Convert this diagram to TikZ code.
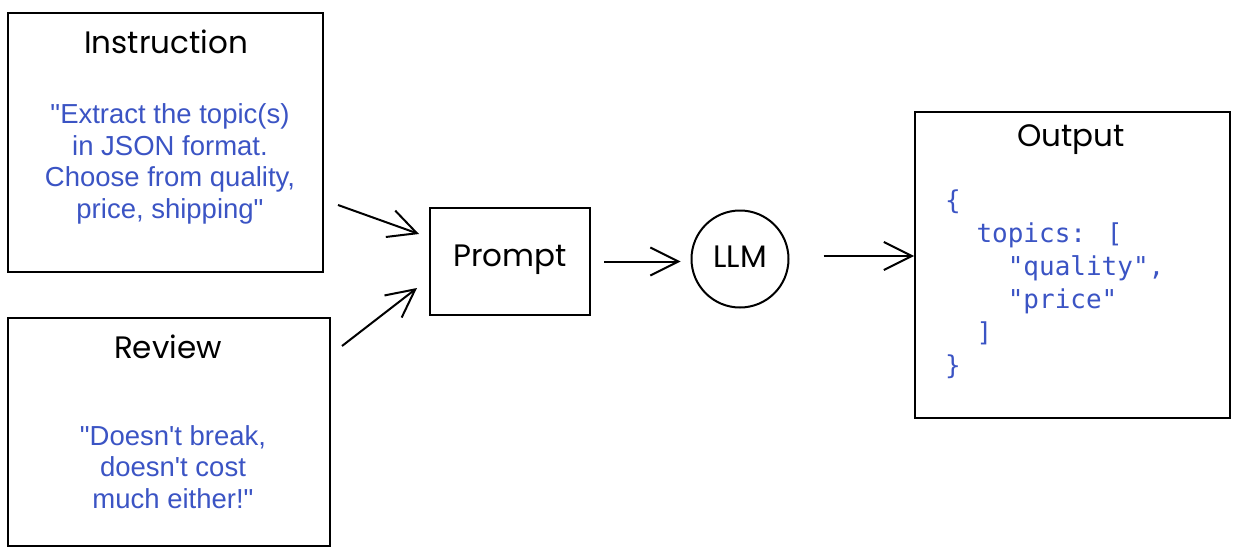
\documentclass[tikz,border=0pt]{standalone}
\usepackage{fontspec}
\usetikzlibrary{arrows.meta,calc}
\newfontfamily\handfont{Poppins}
\newfontfamily\bodyfont{Liberation Sans}
\newfontfamily\codefont{DejaVu Sans Mono}
\definecolor{txtblue}{RGB}{59,84,196}
\tikzset{
  sketchbox/.style={draw=black, line width=2pt, rectangle, inner sep=0pt},
  title/.style={font=\handfont\fontsize{31}{35}\selectfont, text=black},
  bluetext/.style={font=\bodyfont\fontsize{27.5}{31.7}\selectfont, text=txtblue, align=center},
  codetext/.style={font=\codefont\fontsize{26}{33}\selectfont, text=txtblue, align=left, inner sep=0pt},
  arr/.style={line width=2pt, -{Straight Barb[length=28pt,width=28pt,line width=2pt]}}
}
\begin{document}
\begin{tikzpicture}[x=1pt,y=-1pt]
\useasboundingbox (0,0) rectangle (1240,554);
% boxes
\node[sketchbox, minimum width=315pt, minimum height=259pt] (inst) at (165.5,142.5) {};
\node[sketchbox, minimum width=322pt, minimum height=228pt] (rev) at (169,432) {};
\node[sketchbox, minimum width=160pt, minimum height=107pt] (prompt) at (510,261.5) {};
\node[draw=black, line width=2pt, circle, minimum size=97pt, inner sep=0pt] (llm) at (740,259) {};
\node[sketchbox, minimum width=315pt, minimum height=306pt] (out) at (1072.5,265) {};
% titles
\node[title] (instt) at (166,42) {Instruction};
\node[title] (revt) at (168,347) {Review};
\node[title] (promptt) at (510,260) {Prompt};
\node[title] (llmt) at (740,257) {LLM};
\node[title] (outt) at (1071,140) {Output};
% texts
\node[bluetext] (instx) at (170,164) {"Extract the topic(s)\\in JSON format.\\Choose from quality,\\price, shipping"};
\node[bluetext] (revx) at (173,467) {"Doesn't break,\\doesn't cost\\much either!"};
\node[codetext, anchor=west] (code) at (945,284) {\{\\\phantom{xx}topics: [\\\phantom{xxxx}"quality",\\\phantom{xxxx}"price"\\\phantom{xx}]\\\}};
% connectors
\coordinate (a1) at (338,205);
\coordinate (a2) at (342,346);
\draw[arr] (a1) -- ([xshift=-10pt,yshift=27.5pt]prompt.west);
\draw[arr] (a2) -- ([xshift=-12pt,yshift=-26.5pt]prompt.west);
\draw[arr, shorten <=13pt, shorten >=10pt] (prompt.east) -- (prompt.east -| llm.west);
\draw[arr, shorten <=34pt] ([yshift=3pt]llm.east) -- ([yshift=3pt]llm.east -| out.west);
\end{tikzpicture}
\end{document}
